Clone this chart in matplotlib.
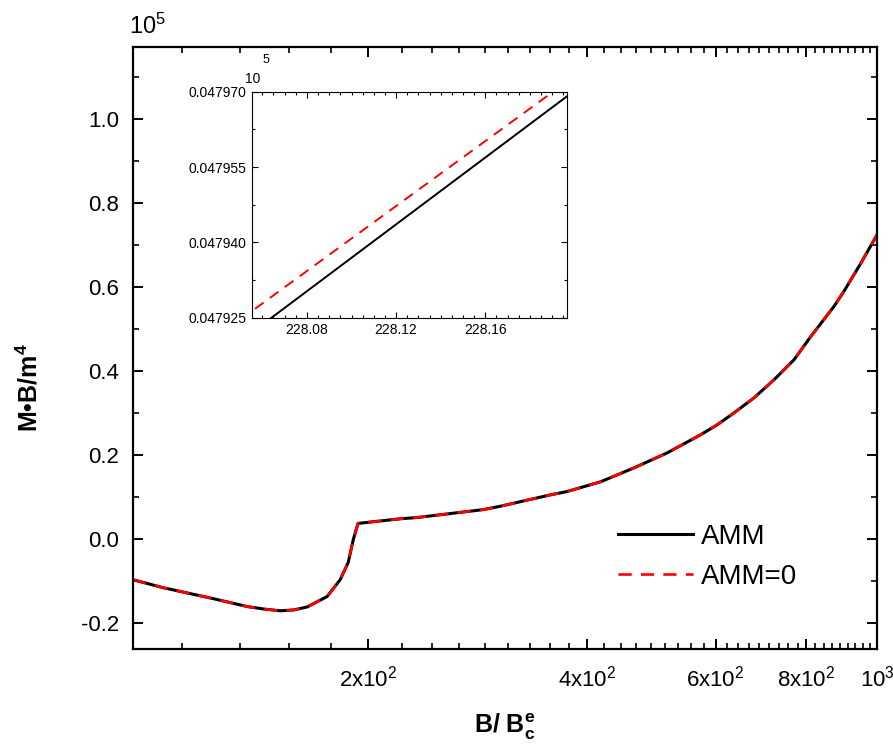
import numpy as np
import matplotlib
matplotlib.use("Agg")
import matplotlib.pyplot as plt
from matplotlib.ticker import FixedLocator, FixedFormatter, FormatStrFormatter, MultipleLocator

plt.rcParams['font.family'] = ['Liberation Sans', 'DejaVu Sans']
plt.rcParams['mathtext.fontset'] = 'custom'
plt.rcParams['mathtext.rm'] = 'Liberation Sans'
plt.rcParams['mathtext.it'] = 'Liberation Sans:italic'
plt.rcParams['mathtext.bf'] = 'Liberation Sans:bold'
plt.rcParams['axes.unicode_minus'] = False

# main curve, B/Bc^e vs M*B/m^4 (in units of 1e5)
B = [95.0, 104.5, 122.4, 136.4, 144.0, 151.3, 158.0, 164.8, 175.6, 183.0,
     187.7, 190.7, 193.6, 221.3, 233.5, 288.2, 303.9, 356.0, 375.3, 417.0,
     463.3, 515.0, 572.3, 603.4, 636.0, 677.7, 722.0, 769.4, 811.0, 873.1,
     901.0, 950.6, 1000.0]
M_amm = [-0.097, -0.116, -0.142, -0.161, -0.167, -0.171, -0.169, -0.162, -0.137, -0.097,
         -0.056, -0.002, 0.037, 0.048, 0.051, 0.070, 0.078, 0.105, 0.113, 0.136,
         0.169, 0.205, 0.248, 0.272, 0.300, 0.336, 0.379, 0.427, 0.482, 0.554,
         0.590, 0.657, 0.724]
M_amm0 = M_amm  # identical at this scale

# inset (zoom around B = 228.1)
B_in_amm = [228.05, 228.20]
M_in_amm = [0.0479203, 0.0479702]
B_in_amm0 = [228.05, 228.20]
M_in_amm0 = [0.0479246, 0.0479731]

xticks = [200, 400, 600, 800, 1000]
xticklabels = [r'$\mathregular{2x10^2}$', r'$\mathregular{4x10^2}$', r'$\mathregular{6x10^2}$',
               r'$\mathregular{8x10^2}$', r'$\mathregular{10^3}$']
inset_xticks = [228.08, 228.12, 228.16]
inset_yticks = [0.047925, 0.047940, 0.047955, 0.047970]

fig = plt.figure(figsize=(8.93, 7.49), dpi=100)
ax = fig.add_axes([0.1489, 0.1335, 0.8332, 0.8031])

ax.plot(B, M_amm, color='black', lw=2.2, label='AMM', solid_joinstyle='round')
ax.plot(B, M_amm0, color='red', lw=1.9, ls=(0, (5, 3.5)), label='AMM=0')

ax.set_xscale('log')
ax.set_xlim(95, 1000)
ax.set_ylim(-0.262, 1.170)
ax.xaxis.set_major_locator(FixedLocator(xticks))
ax.xaxis.set_major_formatter(FixedFormatter(xticklabels))
ax.xaxis.set_minor_locator(FixedLocator(np.arange(1, 46) * 200 / 9))
ax.xaxis.set_minor_formatter(FixedFormatter([]))
ax.yaxis.set_major_locator(MultipleLocator(0.2))
ax.yaxis.set_minor_locator(MultipleLocator(0.1))
ax.yaxis.set_major_formatter(FormatStrFormatter('%.1f'))

ax.tick_params(which='both', direction='in', top=True, right=True, labelsize=16)
ax.tick_params(which='major', length=7, width=1.4)
ax.tick_params(which='minor', length=4, width=1.2)
ax.tick_params(axis='x', which='major', pad=12)
ax.tick_params(axis='y', which='major', pad=10)
for s in ax.spines.values():
    s.set_linewidth(1.6)

ax.set_xlabel(r'$\mathbf{B/\ B^e_c}$', fontsize=18, labelpad=14)
ax.set_ylabel(r'M•B/m$\mathbf{^4}$', fontsize=18, fontweight='bold')
ax.yaxis.set_label_coords(-0.122, 0.435)
ax.text(-0.006, 1.014, r'$\mathregular{10^5}$', transform=ax.transAxes,
        fontsize=17, ha='left', va='bottom')

ax.legend(loc='center left', bbox_to_anchor=(0.652, 0.153), frameon=False,
          fontsize=20, handlelength=2.7, handletextpad=0.3, labelspacing=0.5,
          borderpad=0, borderaxespad=0)

# inset
ins = fig.add_axes([0.2825, 0.5758, 0.3521, 0.3018])
ins.plot(B_in_amm, M_in_amm, color='black', lw=1.4)
ins.plot(B_in_amm0, M_in_amm0, color='red', lw=1.4, ls=(0, (5.5, 4)))
ins.set_xlim(228.0555, 228.1965)
ins.set_ylim(0.047925, 0.047970)
ins.xaxis.set_major_locator(FixedLocator(inset_xticks))
ins.xaxis.set_minor_locator(MultipleLocator(0.005))
ins.xaxis.set_major_formatter(FormatStrFormatter('%.2f'))
ins.yaxis.set_major_locator(FixedLocator(inset_yticks))
ins.yaxis.set_minor_locator(MultipleLocator(0.0000075))
ins.yaxis.set_major_formatter(FormatStrFormatter('%.6f'))
ins.tick_params(which='both', direction='in', top=True, right=True, labelsize=10)
ins.tick_params(which='major', length=4, width=0.8, pad=4)
ins.tick_params(which='minor', length=2.5, width=0.8)
for s in ins.spines.values():
    s.set_linewidth(0.8)
ins.text(-0.024, 1.025, '10', transform=ins.transAxes, fontsize=10, ha='left', va='bottom')
ins.text(0.031, 1.115, '5', transform=ins.transAxes, fontsize=9, ha='left', va='bottom')

fig.savefig('out.png', dpi=100)
